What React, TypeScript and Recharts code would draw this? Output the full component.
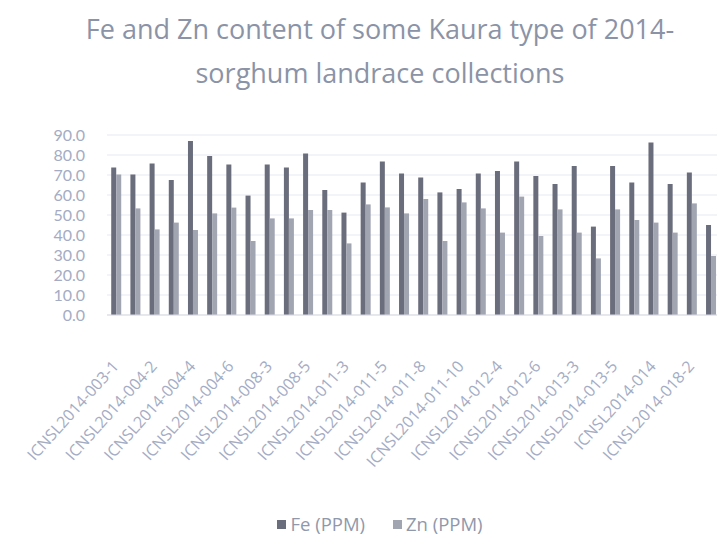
import React from "react"
import { BarChart, Bar, XAxis, YAxis, CartesianGrid } from "recharts"

const accessions = [
  "ICNSL2014-003-1", "ICNSL2014-003-2", "ICNSL2014-004-2", "ICNSL2014-004-3",
  "ICNSL2014-004-4", "ICNSL2014-004-5", "ICNSL2014-004-6", "ICNSL2014-008-2",
  "ICNSL2014-008-3", "ICNSL2014-008-4", "ICNSL2014-008-5", "ICNSL2014-011-2",
  "ICNSL2014-011-3", "ICNSL2014-011-4", "ICNSL2014-011-5", "ICNSL2014-011-7",
  "ICNSL2014-011-8", "ICNSL2014-011-9", "ICNSL2014-011-10", "ICNSL2014-012-3",
  "ICNSL2014-012-4", "ICNSL2014-012-5", "ICNSL2014-012-6", "ICNSL2014-013-2",
  "ICNSL2014-013-3", "ICNSL2014-013-4", "ICNSL2014-013-5", "ICNSL2014-013-6",
  "ICNSL2014-014", "ICNSL2014-018-1", "ICNSL2014-018-2", "ICNSL2014-018-3",
]

const fe = [
  73.7, 70.3, 75.8, 67.5, 87.0, 79.5, 75.3, 59.7,
  75.3, 73.7, 80.8, 62.5, 51.2, 66.3, 76.7, 70.8,
  68.8, 61.3, 63.0, 70.8, 72.0, 76.7, 69.5, 65.5,
  74.5, 44.2, 74.5, 66.3, 86.3, 65.5, 71.2, 45.0,
]

const zn = [
  70.3, 53.3, 42.8, 46.2, 42.5, 50.8, 53.7, 37.0,
  48.3, 48.3, 52.5, 52.5, 35.8, 55.3, 53.8, 50.8,
  58.0, 37.0, 56.3, 53.3, 41.2, 59.2, 39.5, 52.8,
  41.2, 28.3, 52.8, 47.5, 46.2, 41.2, 55.8, 29.5,
]

const yTicks = [0, 10, 20, 30, 40, 50, 60, 70, 80, 90]

const data = accessions.map((name, i) => ({ name, fe: fe[i], zn: zn[i] }))

const FE_COLOR = "#6a6d7c"
const ZN_COLOR = "#a1a5b2"
const TEXT_COLOR = "#a4acc4"
const FONT = "'Open Sans', sans-serif"

function AngledTick({ x, y, payload }: { x?: number; y?: number; payload?: { value: string } }) {
  return (
    <g transform={`translate(${(x ?? 0) + 3},${(y ?? 0) + 44})`}>
      <text
        x={0}
        y={0}
        textAnchor="end"
        transform="rotate(-48)"
        fill={TEXT_COLOR}
        fontSize={16}
        fontFamily={FONT}
      >
        {payload?.value}
      </text>
    </g>
  )
}

export default function App() {
  return (
    <div
      style={{
        position: "absolute",
        left: 0,
        top: 0,
        width: 717,
        height: 544,
        overflow: "hidden",
        background: "#fff",
        fontFamily: FONT,
      }}
    >
      <div
        style={{
          position: "absolute",
          top: 7,
          left: 0,
          width: 760,
          textAlign: "center",
          color: "#8b93a7",
          fontSize: 27,
          lineHeight: "44px",
          whiteSpace: "nowrap",
        }}
      >
        Fe and Zn content of some Kaura type of 2014-
        <br />
        sorghum landrace collections
      </div>
      <BarChart
        width={725}
        height={544}
        data={data}
        margin={{ top: 135, right: 4, bottom: 0, left: 0 }}
        barCategoryGap="22%"
        barGap={0}
      >
        <CartesianGrid vertical={false} stroke="#e6e9ef" />
        <XAxis
          dataKey="name"
          interval={1}
          tickLine={false}
          axisLine={{ stroke: "#d8dbe2" }}
          tick={<AngledTick />}
          height={229}
        />
        <YAxis
          domain={[0, 90]}
          ticks={yTicks}
          interval={0}
          tickFormatter={(v: number) => v.toFixed(1)}
          tick={{ fill: TEXT_COLOR, fontSize: 16, fontFamily: "Lato, sans-serif" }}
          tickLine={false}
          axisLine={false}
          width={107}
          tickMargin={16}
        />
        <Bar dataKey="fe" name="Fe (PPM)" fill={FE_COLOR} isAnimationActive={false} />
        <Bar dataKey="zn" name="Zn (PPM)" fill={ZN_COLOR} isAnimationActive={false} />
      </BarChart>
      <div
        style={{
          position: "absolute",
          top: 511,
          left: 0,
          width: 760,
          display: "flex",
          justifyContent: "center",
          gap: 28,
          color: "#9098ab",
          fontSize: 18.5,
          lineHeight: "26px",
        }}
      >
        <span style={{ display: "flex", alignItems: "center" }}>
          <span style={{ width: 9, height: 9, background: FE_COLOR, marginRight: 4 }} />
          Fe (PPM)
        </span>
        <span style={{ display: "flex", alignItems: "center" }}>
          <span style={{ width: 9, height: 9, background: ZN_COLOR, marginRight: 4 }} />
          Zn (PPM)
        </span>
      </div>
    </div>
  )
}
